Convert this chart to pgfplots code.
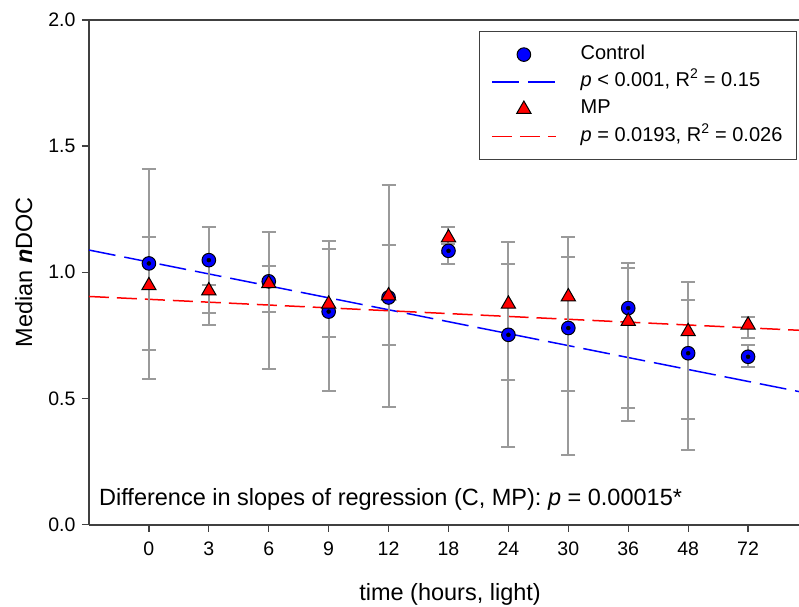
\documentclass[border=0pt]{standalone}
\usepackage{pgfplots}
\pgfplotsset{compat=1.18}
\usepackage{pgfplotstable}
\usepackage{fontspec}
\setmainfont{Liberation Sans}
\definecolor{axgray}{HTML}{404040}
\definecolor{ebgray}{HTML}{9A9A9A}
\definecolor{cblue}{HTML}{0000FF}
\definecolor{cred}{HTML}{FF0000}

\pgfplotstableread{
x y ep em
0 1.035 0.375 0.459
1 1.048 0.133 0.211
2 0.964 0.196 0.348
3 0.844 0.280 0.315
4 0.900 0.446 0.434
5 1.085 0.026 0.053
6 0.752 0.366 0.444
7 0.779 0.361 0.504
8 0.858 0.180 0.448
9 0.679 0.282 0.382
10 0.665 0.046 0.039
}\control

\pgfplotstableread{
x y ep em
0 0.947 0.191 0.257
1 0.927 0.023 0.138
2 0.955 0.069 0.111
3 0.874 0.220 0.132
4 0.907 0.202 0.195
5 1.137 0.044 0.059
6 0.874 0.157 0.300
7 0.903 0.158 0.375
8 0.806 0.209 0.344
9 0.765 0.126 0.347
10 0.791 0.033 0.053
}\mp

\begin{document}
\begin{tikzpicture}
\useasboundingbox (-89pt,-81.5pt) rectangle (710pt,524.5pt);
\begin{axis}[
  at={(0pt,0pt)}, anchor=south west,
  scale only axis, width=710pt, height=504.5pt,
  xmin=-1, xmax=10.85, ymin=0, ymax=2,
  axis x line=box, axis y line=left,
  x axis line style={-}, y axis line style={-},
  axis line style={axgray, line width=2pt},
  xtick pos=lower, ytick pos=left,
  xtick={0,...,10},
  xticklabels={0,3,6,9,12,18,24,30,36,48,72},
  ytick={0,0.5,1,1.5,2},
  yticklabel style={/pgf/number format/fixed, /pgf/number format/fixed zerofill, /pgf/number format/precision=1, xshift=-3pt},
  /pgf/number format/assume math mode=true,
  tick align=outside, major tick length=7pt,
  tick style={axgray, line width=1.3pt},
  ticklabel style={font=\fontsize{19.5}{22}\selectfont},
  xticklabel style={yshift=-7pt},
  xlabel={time (hours, light)},
  ylabel={Median \textbf{\textit{n}}DOC},
  every axis x label/.style={at={(axis description cs:0.5085,-0.1516)}, anchor=base, font=\fontsize{23.5}{28}\selectfont},
  every axis y label/.style={at={(axis description cs:-0.1042,0.5)}, rotate=90, anchor=north, inner sep=0pt, font=\fontsize{23.5}{28}\selectfont},
  legend image code/.code={\draw[mark repeat=2,mark phase=2,#1] plot coordinates {(0pt,0pt) (32pt,0pt) (64pt,0pt)};},
  legend style={at={(axis description cs:1,1)}, anchor=north east, xshift=-2pt, yshift=-11pt,
    draw=axgray, line width=1.2pt, fill=white,
    font=\fontsize{20}{23}\selectfont, cells={anchor=west},
    inner xsep=12pt, inner ysep=11.5pt, row sep=4.3pt,
    nodes={inner sep=2pt, text height=14pt, text depth=5pt},
    /tikz/every odd column/.append style={column sep=22pt}},
]
% regression lines
\addplot[forget plot, cblue, line width=1.5pt, dash pattern=on 27pt off 9pt] coordinates {(-1,1.088) (10.85,0.527)};
\addplot[forget plot, cred, line width=1.5pt, dash pattern=on 20pt off 8pt] coordinates {(-1,0.904) (10.85,0.770)};
% control markers
\addplot[forget plot, only marks, mark=*, mark size=6.8pt, mark options={fill=cblue, draw=black, line width=1pt}] table[x=x,y=y] {\control};
% error bars
\addplot[forget plot, only marks, mark=none,
  error bars/.cd, y dir=both, y explicit,
  error bar style={ebgray, line width=2pt},
  error mark options={rotate=90, mark size=7pt, ebgray, line width=2pt}]
  table[x=x,y=y,y error plus=ep,y error minus=em] {\control};
\addplot[forget plot, only marks, mark=none,
  error bars/.cd, y dir=both, y explicit,
  error bar style={ebgray, line width=2pt},
  error mark options={rotate=90, mark size=7pt, ebgray, line width=2pt}]
  table[x=x,y=y,y error plus=ep,y error minus=em] {\mp};
% MP markers
\addplot[forget plot, only marks, mark=triangle*, mark size=8.2pt, mark options={fill=cred, draw=black, line width=1pt}] table[x=x,y=y] {\mp};

\addlegendimage{only marks, mark=*, mark size=6.8pt, mark options={fill=cblue, draw=black, line width=1pt}}
\addlegendentry{Control}
\addlegendimage{cblue, line width=1.5pt, dash pattern=on 27pt off 9pt}
\addlegendentry{\textit{p} < 0.001, R\textsuperscript{2} = 0.15}
\addlegendimage{only marks, mark=triangle*, mark size=8.2pt, mark options={fill=cred, draw=black, line width=1pt}}
\addlegendentry{MP}
\addlegendimage{cred, line width=1.5pt, dash pattern=on 20pt off 8pt}
\addlegendentry{\textit{p} = 0.0193, R\textsuperscript{2} = 0.026}

\node[anchor=base west, inner sep=0pt, font=\fontsize{23.5}{28}\selectfont] at (axis cs:-0.833,0.075) {Difference in slopes of regression (C, MP): \textit{p} = 0.00015*};
\end{axis}
\end{tikzpicture}
\end{document}
